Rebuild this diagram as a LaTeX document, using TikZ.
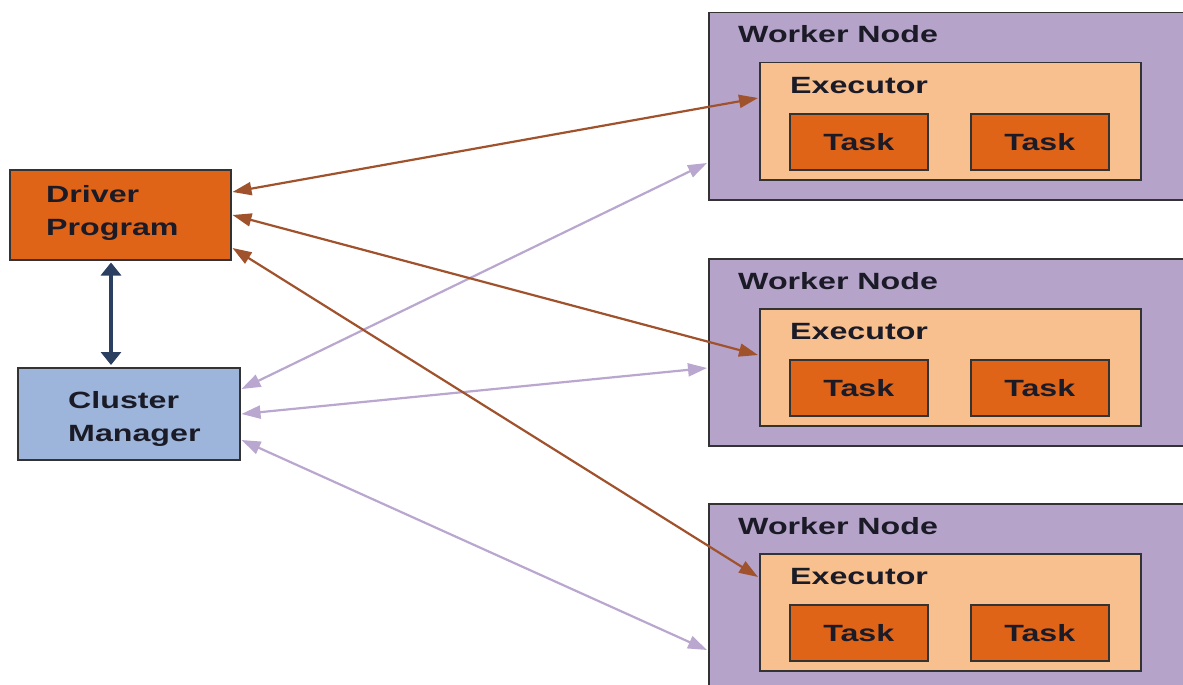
\documentclass[tikz,border=0pt]{standalone}
\usepackage{fontspec}
\newfontfamily\lblfont[FakeStretch=1.37]{Liberation Sans}
\usetikzlibrary{arrows.meta,calc}
\definecolor{orng}{HTML}{DF6418}
\definecolor{peach}{HTML}{F8C08E}
\definecolor{lilac}{HTML}{B6A3C9}
\definecolor{skyb}{HTML}{9DB5DA}
\definecolor{bordc}{HTML}{333333}
\definecolor{brn}{HTML}{A0522D}
\definecolor{lav}{HTML}{B9A7D0}
\definecolor{navy}{HTML}{2B4060}
\definecolor{txt}{HTML}{1B1B28}
\begin{document}
\begin{tikzpicture}[x=1pt,y=-1pt,
  box/.style={draw=bordc,line width=1.5pt,inner sep=0pt,anchor=north west},
  lbl/.style={inner sep=0pt,text=txt,font=\lblfont\bfseries\fontsize{23.5}{33}\selectfont},
  brnarrow/.style={draw=brn,line width=2.2pt,{Triangle[length=19pt,width=13pt]}-{Triangle[length=19pt,width=13pt]}},
  lavarrow/.style={draw=lav,line width=2.2pt,{Triangle[length=19pt,width=13pt]}-{Triangle[length=19pt,width=13pt]}},
  navyarrow/.style={draw=navy,line width=3.8pt,{Triangle[length=13pt,width=20pt]}-{Triangle[length=13pt,width=20pt]}}]
\clip (0,0) rectangle (1183,685);
\fill[white] (0,0) rectangle (1183,685);

% left boxes
\node[box,fill=orng,minimum width=221pt,minimum height=90pt] (driver) at (9,169) {};
\node[lbl,align=left,anchor=north west] (driverlbl) at (46,185) {Driver\\Program};
\node[box,fill=skyb,minimum width=222pt,minimum height=92pt] (cm) at (17,367) {};
\node[lbl,align=left,anchor=north west] (cmlbl) at (68,391) {Cluster\\Manager};

% worker nodes
\foreach \i/\dy in {1/0,2/246,3/491}{
  \node[box,fill=lilac,minimum width=490pt,minimum height=187pt] (w\i) at (708,12+\dy) {};
  \node[lbl,anchor=base west] (wl\i) at (738,43+\dy) {Worker Node};
  \node[box,fill=peach,minimum width=381pt,minimum height=117pt] (e\i) at (759,62+\dy) {};
  \node[lbl,anchor=base west] (el\i) at (790,93+\dy) {Executor};
  \node[box,fill=orng,minimum width=138pt,minimum height=56pt] (ta\i) at (789,113+\dy) {};
  \node[lbl] (tal\i) at (ta\i.center) {Task};
  \node[box,fill=orng,minimum width=138pt,minimum height=56pt] (tb\i) at (970,113+\dy) {};
  \node[lbl] (tbl\i) at (tb\i.center) {Task};
}

% connectors
\draw[navyarrow] ($(driver.south west)+(102,2)$) -- ($(cm.north west)+(94,-2)$);

\draw[lavarrow] ($(cm.north east)+(1,22)$) -- ($(w1.north west)+(-1,151)$);
\draw[lavarrow] ($(cm.north east)+(1,47)$) -- ($(w2.north west)+(-1,110)$);
\draw[lavarrow] ($(cm.north east)+(1,73)$) -- ($(w3.north west)+(-1,147)$);

\draw[brnarrow] ($(driver.north east)+(1,23)$) -- ($(e1.north west)+(-1,36)$);
\draw[brnarrow] ($(driver.north east)+(1,46)$) -- ($(e2.north west)+(-1,47)$);
\draw[brnarrow] ($(driver.north east)+(1,79)$) -- ($(e3.north west)+(-1,24)$);
\end{tikzpicture}
\end{document}
